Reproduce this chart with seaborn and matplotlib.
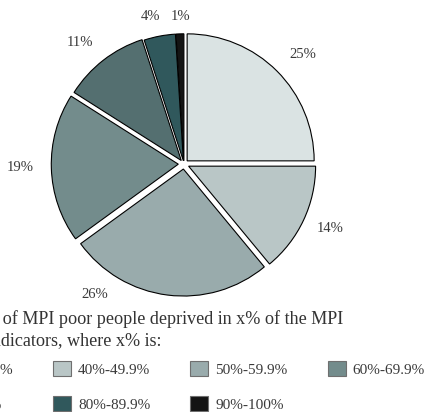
import matplotlib
matplotlib.use("Agg")
import matplotlib.pyplot as plt
from matplotlib.patches import Patch
import seaborn as sns

# Data
shares = [25, 14, 26, 19, 11, 4, 1]
bands = ["33.3%-39.9%", "40%-49.9%", "50%-59.9%", "60%-69.9%",
         "70%-79.9%", "80%-89.9%", "90%-100%"]
colors = ["#dae3e3", "#b9c6c6", "#99abac", "#738c8c", "#546f70", "#30585c", "#141414"]
title_lines = ["% of MPI poor people deprived in x% of the MPI",
               "indicators, where x% is:"]

sns.set_theme(style="white")
plt.rcParams["font.family"] = ["Liberation Serif", "DejaVu Serif"]

W, H = 430, 412
fig = plt.figure(figsize=(W / 100, H / 100), dpi=100)
fig.patch.set_facecolor("white")

# pie centre (184, 164) px from top-left, radius 127 px
R = 127
L = 1.3
cx, cy = 184, 164
ax = fig.add_axes([(cx - L * R) / W, (H - cy - L * R) / H, 2 * L * R / W, 2 * L * R / H])

explode = [0.035, 0.04, 0.04, 0.045, 0.035, 0.025, 0.025]
wedges, _, pcts = ax.pie(
    shares, colors=colors, startangle=90, counterclock=False,
    explode=explode, radius=1.0,
    autopct=lambda p: f"{p:.0f}%", pctdistance=1.2,
    wedgeprops={"edgecolor": "black", "linewidth": 0.8},
    textprops={"fontsize": 10.5, "color": "#3a3a3a"},
)
ax.set_xlim(-L, L)
ax.set_ylim(-L, L)
ax.axis("off")

# label spots (px from top-left), as placed in the original
label_px = [(303, 55), (330, 229), (95, 295), (20, 168), (80, 43), (150, 17), (181, 16)]
for t, (lx, ly) in zip(pcts, label_px):
    t.set_clip_on(False)
    t.set_position(((lx - cx) / R, -(ly - cy) / R))

renderer = fig.canvas.get_renderer()

# legend title (left part cropped off)
def text_width(s, size):
    t = fig.text(0, 0, s, fontsize=size)
    w = t.get_window_extent(renderer).width
    t.remove()
    return w

tsize = 13.1
w1 = text_width("%", tsize) + 3
w2 = text_width("in", tsize)
fig.text((1 - w1) / W, 1 - 319 / H, title_lines[0], fontsize=tsize, color="#333333",
         ha="left", va="center")
fig.text((1 - w2) / W, 1 - 341 / H, title_lines[1], fontsize=tsize, color="#333333",
         ha="left", va="center")

# legend rows filled row-wise -> reorder for matplotlib's column-major fill
order = [0, 4, 1, 5, 2, 6, 3]
handles = [Patch(facecolor=colors[i], edgecolor="#6f6f6f", linewidth=0.8) for i in order]
labels = [bands[i] for i in order]
fs = 11
px = fs * 100 / 72
leg = fig.legend(
    handles, labels, ncol=4, loc="upper left", bbox_to_anchor=(0, 0),
    frameon=False, fontsize=fs, handlelength=18 / px, handleheight=18 / px,
    handletextpad=7 / px, columnspacing=40 / px, labelspacing=19 / px,
    borderpad=0, borderaxespad=0, labelcolor="#3a3a3a",
)
fig.canvas.draw()
bb = leg.get_patches()[2].get_window_extent(renderer)
# want the 40%-49.9% box at x=53, top edge at y=361 (from top)
dx = 53 - bb.x0
dy = (H - 361) - bb.y1
leg.set_bbox_to_anchor((dx / W, dy / H), transform=fig.transFigure)

fig.savefig("out.png", dpi=100)
